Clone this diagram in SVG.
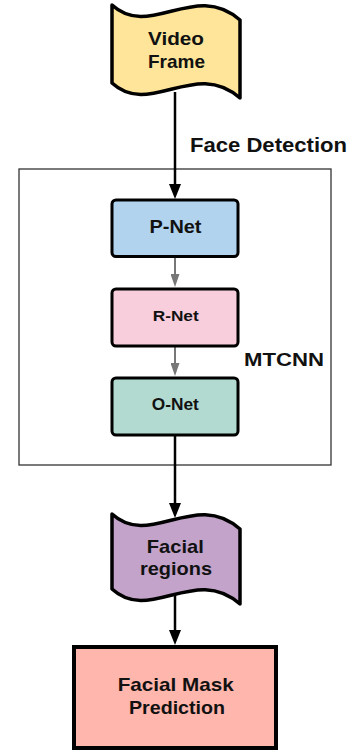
<svg xmlns="http://www.w3.org/2000/svg" width="352" height="754" viewBox="0 0 352 754">
<style>
.lbl{font-family:"Liberation Sans",Arial,sans-serif;font-weight:bold;fill:#111;}
.mid{text-anchor:middle;}
.node{stroke:#000;stroke-width:3.5;stroke-linejoin:round;}
.box{stroke:#000;stroke-width:3;}
.blk{stroke:#000;stroke-width:2.5;fill:none;}
.gry{stroke:#777;stroke-width:2;fill:none;}
</style>
<defs>
<marker id="ab" markerUnits="userSpaceOnUse" viewBox="0 0 15 12" markerWidth="15" markerHeight="12" refX="1" refY="6" orient="auto">
<path d="M0,0 L15,6 L0,12 Z" fill="#000"/>
</marker>
<marker id="ag" markerUnits="userSpaceOnUse" viewBox="0 0 13 9" markerWidth="13" markerHeight="9" refX="1" refY="4.5" orient="auto">
<path d="M0,0 L13,4.5 L0,9 Z" fill="#777"/>
</marker>
</defs>
<g id="mtcnn-group">
<rect x="19" y="169" width="312" height="296" fill="none" stroke="#333" stroke-width="1.3"/>
<text class="lbl" x="244" y="366" font-size="18.5" textLength="80" lengthAdjust="spacingAndGlyphs">MTCNN</text>
</g>
<g id="connectors">
<line class="blk" x1="175" y1="92" x2="175" y2="185" marker-end="url(#ab)"/>
<line class="gry" x1="175" y1="257" x2="175" y2="275" marker-end="url(#ag)"/>
<line class="gry" x1="175" y1="346" x2="175" y2="364" marker-end="url(#ag)"/>
<line class="blk" x1="175" y1="436" x2="175" y2="504" marker-end="url(#ab)"/>
<line class="blk" x1="175" y1="595" x2="175" y2="631" marker-end="url(#ab)"/>
<text class="lbl" x="190" y="152" font-size="19.5" textLength="157" lengthAdjust="spacingAndGlyphs">Face Detection</text>
</g>
<g id="video-frame">
<path class="node" fill="#FFE599" d="M112,5 C150,40 195,-20 240,20 L240,98 C195,58 150,118 112,83 Z"/>
<text class="lbl mid" x="176" y="45" font-size="19" textLength="56" lengthAdjust="spacingAndGlyphs">Video</text>
<text class="lbl mid" x="176.5" y="68" font-size="19" textLength="57" lengthAdjust="spacingAndGlyphs">Frame</text>
</g>
<g id="p-net">
<rect class="box" x="112" y="200" width="126" height="56.5" rx="4" fill="#B1D3EE"/>
<text class="lbl mid" x="175.5" y="232.5" font-size="18" textLength="52" lengthAdjust="spacingAndGlyphs">P-Net</text>
</g>
<g id="r-net">
<rect class="box" x="112" y="289" width="126" height="57" rx="4" fill="#F8CDDC"/>
<text class="lbl mid" x="175.7" y="320.5" font-size="15" textLength="46" lengthAdjust="spacingAndGlyphs">R-Net</text>
</g>
<g id="o-net">
<rect class="box" x="112" y="378" width="126" height="57" rx="4" fill="#B2DAD1"/>
<text class="lbl mid" x="175.3" y="410" font-size="16" textLength="47" lengthAdjust="spacingAndGlyphs">O-Net</text>
</g>
<g id="facial-regions">
<path class="node" fill="#C3A3CA" d="M112,514 C150,549 195,489 240,529 L240,604 C195,564 150,624 112,589 Z"/>
<text class="lbl mid" x="175.3" y="553.3" font-size="19" textLength="57" lengthAdjust="spacingAndGlyphs">Facial</text>
<text class="lbl mid" x="176" y="575" font-size="19" textLength="72" lengthAdjust="spacingAndGlyphs">regions</text>
</g>
<g id="facial-mask-prediction">
<rect x="74" y="647" width="202" height="101" fill="#FFB6AD" stroke="#000" stroke-width="4"/>
<text class="lbl mid" x="175.7" y="691" font-size="19" textLength="116" lengthAdjust="spacingAndGlyphs">Facial Mask</text>
<text class="lbl mid" x="177" y="713.5" font-size="19" textLength="96" lengthAdjust="spacingAndGlyphs">Prediction</text>
</g>
</svg>
